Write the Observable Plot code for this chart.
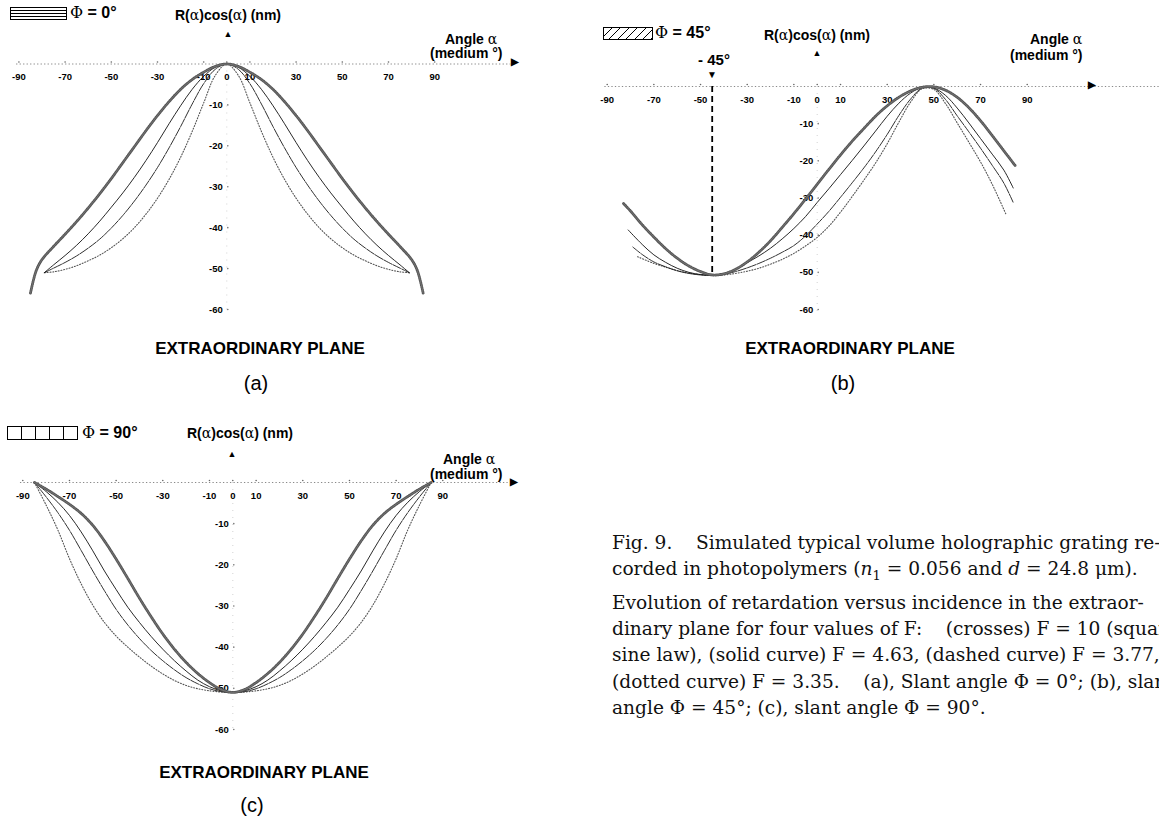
<!DOCTYPE html>
<html><head><meta charset="utf-8">
<script src="https://cdn.jsdelivr.net/npm/d3@7"></script>
<script src="https://cdn.jsdelivr.net/npm/@observablehq/plot@0.6"></script>
<style>
html,body{margin:0;padding:0;background:#fff;}
body{width:1159px;height:819px;overflow:hidden;position:relative;font-family:Arial,"Liberation Sans",Helvetica,sans-serif;color:#000;}
.panel{position:absolute;}
.lab{position:absolute;white-space:nowrap;font-weight:bold;line-height:1;}
.c{transform:translateX(-50%);}
.sym{font-family:"DejaVu Serif","Liberation Serif",serif;font-weight:normal;}
.box{position:absolute;border:1px solid #000;box-sizing:border-box;}
.title{position:absolute;white-space:nowrap;font-weight:bold;font-size:17px;line-height:1;transform:translateX(-50%);}
.sub{position:absolute;white-space:nowrap;font-size:20px;line-height:1;transform:translateX(-50%);}
#caption{position:absolute;left:612px;top:530px;font-family:"DejaVu Serif","Liberation Serif",serif;font-size:18.6px;line-height:26.4px;white-space:nowrap;color:#111;}
</style></head><body>
<script>
// ---------- data ----------
const xTicks = [-90, -70, -50, -30, -10, 0, 10, 30, 50, 70, 90];
const yTicks = [-10, -20, -30, -40, -50, -60];
const seriesNames = ["crosses F = 10", "solid F = 4.63", "dashed F = 3.77", "dotted F = 3.35"];

// Panel (a) slant 0
const aCrossAlpha = [-85,-82.5,-80,-75,-70,-65,-60,-55,-50,-45,-40,-35,-30,-25,-20,-15,-10,-5,0,5,10,15,20,25,30,35,40,45,50,55,60,65,70,75,80,82.5,85];
const aCrossR     = [-56,-50.5,-47.8,-44.6,-41.6,-38.5,-35.2,-31.7,-28,-24.1,-20.2,-16.3,-12.6,-9.2,-6.2,-3.8,-2,-0.6,0,-0.6,-2,-3.8,-6.2,-9.2,-12.6,-16.3,-20.2,-24.1,-28,-31.7,-35.2,-38.5,-41.6,-44.6,-47.8,-50.5,-56];
const aLineAlpha  = [-79,-75,-70,-65,-60,-55,-50,-45,-40,-35,-30,-25,-20,-15,-10,-5,0,5,10,15,20,25,30,35,40,45,50,55,60,65,70,75,79];
const aSolidR     = [-51,-49.1,-46.8,-44.3,-41.5,-38.4,-35,-31.5,-27.7,-23.6,-19.2,-14.6,-10.2,-6.2,-3,-0.8,0,-0.8,-3,-6.2,-10.2,-14.6,-19.2,-23.6,-27.7,-31.5,-35,-38.4,-41.5,-44.3,-46.8,-49.1,-51];
const aDashedR    = [-51,-49.9,-48.5,-46.9,-45,-42.8,-40.1,-37,-33.5,-29.6,-25.3,-20.5,-15.3,-9.8,-4.8,-1.3,0,-1.3,-4.8,-9.8,-15.3,-20.5,-25.3,-29.6,-33.5,-37,-40.1,-42.8,-45,-46.9,-48.5,-49.9,-51];
const aDottedR    = [-51,-50.8,-50.2,-49.3,-48.1,-46.7,-44.9,-42.7,-40,-36.7,-32.8,-28.2,-22.8,-16.5,-9.5,-2.8,0,-2.8,-9.5,-16.5,-22.8,-28.2,-32.8,-36.7,-40,-42.7,-44.9,-46.7,-48.1,-49.3,-50.2,-50.8,-51];

// Panel (b) slant 45
const bCrossAlpha = [-83,-80,-75,-70,-65,-60,-55,-50,-45,-40,-35,-30,-25,-20,-15,-10,-5,0,5,10,15,20,25,30,35,40,45,50,55,60,65,70,75,80,85];
const bCrossR     = [-31.5,-33.5,-37.2,-40.5,-43.6,-46.2,-48.3,-49.8,-50.7,-50.4,-49.2,-47.2,-44.6,-41.5,-37.9,-34.2,-30.3,-26.3,-22.3,-18.4,-14.7,-11.3,-8,-5.2,-2.9,-1.2,-0.2,-0.1,-1,-2.9,-5.7,-9.2,-13.2,-17.3,-21.4];
const bSolidAlpha = [-81,-75,-70,-65,-60,-55,-50,-45,-40,-35,-30,-25,-20,-15,-10,-5,0,5,10,15,20,25,30,35,40,45,50,55,60,65,70,75,80,84];
const bSolidR     = [-38.6,-42.5,-45.3,-47.3,-48.9,-50,-50.6,-50.8,-50.4,-49.2,-47.4,-45.6,-43.5,-41,-38.2,-35,-31.2,-27.5,-23.7,-19.9,-16,-12,-8,-4.5,-1.8,-0.2,-0.4,-2.4,-5.8,-9.8,-14,-18.2,-22.5,-27.3];
const bDashedAlpha= [-79,-75,-70,-65,-60,-55,-50,-45,-40,-35,-30,-25,-20,-15,-10,-5,0,5,10,15,20,25,30,35,40,45,50,55,60,65,70,75,80,84];
const bDashedR    = [-43.2,-45.2,-47.2,-48.5,-49.6,-50.3,-50.7,-50.8,-50.5,-49.8,-48.8,-47.6,-46.2,-44.6,-42.8,-40.2,-37,-33.6,-29.8,-25.9,-21.9,-17.6,-12.9,-7.8,-3.4,-0.4,-0.5,-3.5,-7.9,-12.2,-16.6,-21.2,-26,-31.2];
const bDottedAlpha= [-77,-70,-65,-60,-55,-50,-45,-40,-35,-30,-25,-20,-15,-10,-5,0,5,10,15,20,25,30,35,40,45,50,55,60,65,70,75,81];
const bDottedR    = [-45.8,-47.6,-48.6,-49.5,-50.2,-50.6,-50.8,-50.7,-50.3,-49.7,-48.9,-47.8,-46.5,-44.9,-42.9,-40.6,-37.6,-33.8,-29.6,-25.2,-20.6,-15.4,-9.6,-4.2,-0.6,-0.8,-4.6,-9.8,-15,-20.3,-26.3,-34.5];

// Panel (c) slant 90
const cAlpha   = [-85,-80,-75,-70,-65,-60,-55,-50,-45,-40,-35,-30,-25,-20,-15,-10,-5,0,5,10,15,20,25,30,35,40,45,50,55,60,65,70,75,80,85];
const cCrossR  = [0,-1.6,-3.4,-5.3,-7.5,-10.4,-14.2,-18.6,-23.3,-28.1,-32.6,-36.8,-40.5,-43.7,-46.4,-48.6,-50.3,-51,-50.3,-48.6,-46.4,-43.7,-40.5,-36.8,-32.6,-28.1,-23.3,-18.6,-14.2,-10.4,-7.5,-5.3,-3.4,-1.6,0];
const cSolidR  = [0,-2.2,-4.8,-8,-12,-16.6,-21.5,-26,-30.3,-34,-37.4,-40.5,-43.3,-45.8,-48,-49.6,-50.6,-51,-50.6,-49.6,-48,-45.8,-43.3,-40.5,-37.4,-34,-30.3,-26,-21.5,-16.6,-12,-8,-4.8,-2.2,0];
const cDashedR = [0,-3.5,-7.3,-11.6,-16.5,-21.5,-26.3,-30.8,-34.6,-37.9,-40.8,-43.3,-45.5,-47.4,-48.9,-50.1,-50.8,-51,-50.8,-50.1,-48.9,-47.4,-45.5,-43.3,-40.8,-37.9,-34.6,-30.8,-26.3,-21.5,-16.5,-11.6,-7.3,-3.5,0];
const cDottedR = [0,-5.5,-11.5,-18.5,-24.6,-29.8,-34,-37.3,-40,-42.4,-44.6,-46.5,-48.1,-49.3,-50.1,-50.6,-50.9,-51,-50.9,-50.6,-50.1,-49.3,-48.1,-46.5,-44.6,-42.4,-40,-37.3,-34,-29.8,-24.6,-18.5,-11.5,-5.5,0];

// ---------- helpers ----------
const FONT = "Arial, 'Liberation Sans', Helvetica, sans-serif";
const pts = (xs, ys) => xs.map((a, i) => ({a, r: ys[i]}));

function seriesMarks(cross, solid, dashed, dotted) {
  const common = {x: "a", y: "r", curve: "catmull-rom"};
  return [
    Plot.line(dotted, {...common, stroke: "#555", strokeWidth: 1.1, strokeDasharray: "1,1.8"}),
    Plot.line(dashed, {...common, stroke: "#1a1a1a", strokeWidth: 0.9, strokeDasharray: "9,1.2"}),
    Plot.line(solid,  {...common, stroke: "#111", strokeWidth: 0.9}),
    Plot.line(cross,  {...common, stroke: "#555", strokeWidth: 2.8, strokeDasharray: "1,1.2"}),
    Plot.line(cross,  {...common, stroke: "#888", strokeWidth: 0.6})
  ];
}

function panel(cfg) {
  const el = Plot.plot({
    width: cfg.width, height: cfg.height, margin: 0,
    style: {background: "transparent", overflow: "visible", fontFamily: FONT},
    x: {domain: [-90, 90], range: cfg.xRange, axis: null},
    y: {domain: [-60, 0], range: cfg.yRange, axis: null},
    marks: [
      Plot.ruleY([0], {x1: -91, x2: cfg.axisEnd, stroke: "#8a8a8a", strokeWidth: 1, strokeDasharray: "1.3,2.2"}),
      Plot.ruleX([0], {y1: 0, y2: -61, stroke: "#c8c8c8", strokeWidth: 0.8, strokeDasharray: "1,6"}),
      Plot.dot(xTicks, {x: d => d, y: 0, r: 0.8, fill: "#666", stroke: null, dy: -2}),
      Plot.dot(yTicks, {x: 0, y: d => d, r: 0.8, fill: "#777", stroke: null, dx: 1}),
      Plot.text(xTicks, {x: d => d, y: 0, dy: 13, text: d => String(d), fontSize: 9.5, fontWeight: "bold", fill: "#000"}),
      Plot.text(yTicks, {x: 0, y: d => d, dx: -4, textAnchor: "end", text: d => String(d), fontSize: 9.5, fontWeight: "bold", fill: "#000"}),
      ...(cfg.extra || []),
      ...seriesMarks(cfg.cross, cfg.solid, cfg.dashed, cfg.dotted)
    ]
  });
  const wrap = document.createElement("div");
  wrap.className = "panel";
  wrap.style.left = cfg.left + "px";
  wrap.style.top = cfg.top + "px";
  wrap.appendChild(el);
  document.body.appendChild(wrap);
}

function lab(html, left, top, size, cls = "", extra = "") {
  const d = document.createElement("div");
  d.className = "lab " + cls;
  d.style.cssText = `left:${left}px;top:${top}px;font-size:${size}px;${extra}`;
  d.innerHTML = html;
  document.body.appendChild(d);
}
function box(left, top, w, h, bg) {
  const d = document.createElement("div");
  d.className = "box";
  d.style.cssText = `left:${left}px;top:${top}px;width:${w}px;height:${h}px;background:${bg};`;
  document.body.appendChild(d);
}
function txt(cls, html, left, top) {
  const d = document.createElement("div");
  d.className = cls;
  d.style.left = left + "px";
  d.style.top = top + "px";
  d.innerHTML = html;
  document.body.appendChild(d);
}

// ---------- panel (a) ----------
panel({
  left: 0, top: 0, width: 580, height: 400,
  xRange: [18.4, 434.2], yRange: [309, 63.5], axisEnd: 123,
  cross: pts(aCrossAlpha, aCrossR), solid: pts(aLineAlpha, aSolidR),
  dashed: pts(aLineAlpha, aDashedR), dotted: pts(aLineAlpha, aDottedR)
});
box(10, 7, 57, 13, "repeating-linear-gradient(to bottom,#fff 0 2px,#000 2px 3px)");
lab('<span class="sym">Φ</span> = 0°', 70, 5, 16);
lab('R(<span class="sym">α</span>)cos(<span class="sym">α</span>) (nm)', 228, 8, 14, "c");
lab('▲', 228, 30, 9, "c");
lab('Angle <span class="sym">α</span>', 445, 32, 14);
lab('(medium °)', 430, 46, 14);
lab('▶', 511, 57, 10);
txt("title", "EXTRAORDINARY PLANE", 260, 340);
txt("sub", "(a)", 256, 373);

// ---------- panel (b) ----------
panel({
  left: 580, top: 0, width: 579, height: 400,
  xRange: [26.7, 446.7], yRange: [309, 86], axisEnd: 219,
  cross: pts(bCrossAlpha, bCrossR), solid: pts(bSolidAlpha, bSolidR),
  dashed: pts(bDashedAlpha, bDashedR), dotted: pts(bDottedAlpha, bDottedR),
  extra: [Plot.ruleX([-45], {y1: 0, y2: -51, stroke: "#000", strokeWidth: 1.8, strokeDasharray: "6,4"})]
});
box(603, 27, 50, 13, "repeating-linear-gradient(135deg,#fff 0 5px,#000 5px 6px)");
lab('<span class="sym">Φ</span> = 45°', 655, 25, 16);
lab('R(<span class="sym">α</span>)cos(<span class="sym">α</span>) (nm)', 817, 28, 14, "c");
lab('▲', 817, 49, 9, "c");
lab('- 45°', 714, 52, 15, "c");
lab('▼', 712, 70, 10, "c");
lab('Angle <span class="sym">α</span>', 1030, 32, 14);
lab('(medium °)', 1010, 48, 14);
lab('▶', 1088, 80, 10);
txt("title", "EXTRAORDINARY PLANE", 850, 340);
txt("sub", "(b)", 843, 373);

// ---------- panel (c) ----------
panel({
  left: 0, top: 410, width: 580, height: 409,
  xRange: [22.3, 442.3], yRange: [319, 72], axisEnd: 118,
  cross: pts(cAlpha, cCrossR), solid: pts(cAlpha, cSolidR),
  dashed: pts(cAlpha, cDashedR), dotted: pts(cAlpha, cDottedR)
});
box(7, 426, 71, 14, "repeating-linear-gradient(to right,#fff 0 13px,#000 13px 14px)");
lab('<span class="sym">Φ</span> = 90°', 82, 425, 16);
lab('R(<span class="sym">α</span>)cos(<span class="sym">α</span>) (nm)', 240, 426, 14, "c");
lab('▲', 232, 450, 9, "c");
lab('Angle <span class="sym">α</span>', 443, 452, 14);
lab('(medium °)', 430, 467, 14);
lab('▶', 510, 477, 10);
txt("title", "EXTRAORDINARY PLANE", 264, 764);
txt("sub", "(c)", 252, 795);

// ---------- caption ----------
const cap = document.createElement("div");
cap.id = "caption";
cap.innerHTML = [
  "Fig. 9.&nbsp;&nbsp;&nbsp; Simulated typical volume holographic grating re-",
  "corded in photopolymers (<i>n</i><sub style=\"font-size:13px\">1</sub> = 0.056 and <i>d</i> = 24.8 μm).",
  "Evolution of retardation versus incidence in the extraor-",
  "dinary plane for four values of F:&nbsp;&nbsp;&nbsp; (crosses) F = 10 (square",
  "sine law), (solid curve) F = 4.63, (dashed curve) F = 3.77,",
  "(dotted curve) F = 3.35.&nbsp;&nbsp;&nbsp; (a), Slant angle Φ = 0°; (b), slant",
  "angle Φ = 45°; (c), slant angle Φ = 90°."
].map(s => `<div>${s}</div>`).join("");
document.body.appendChild(cap);
</script>
</body></html>
